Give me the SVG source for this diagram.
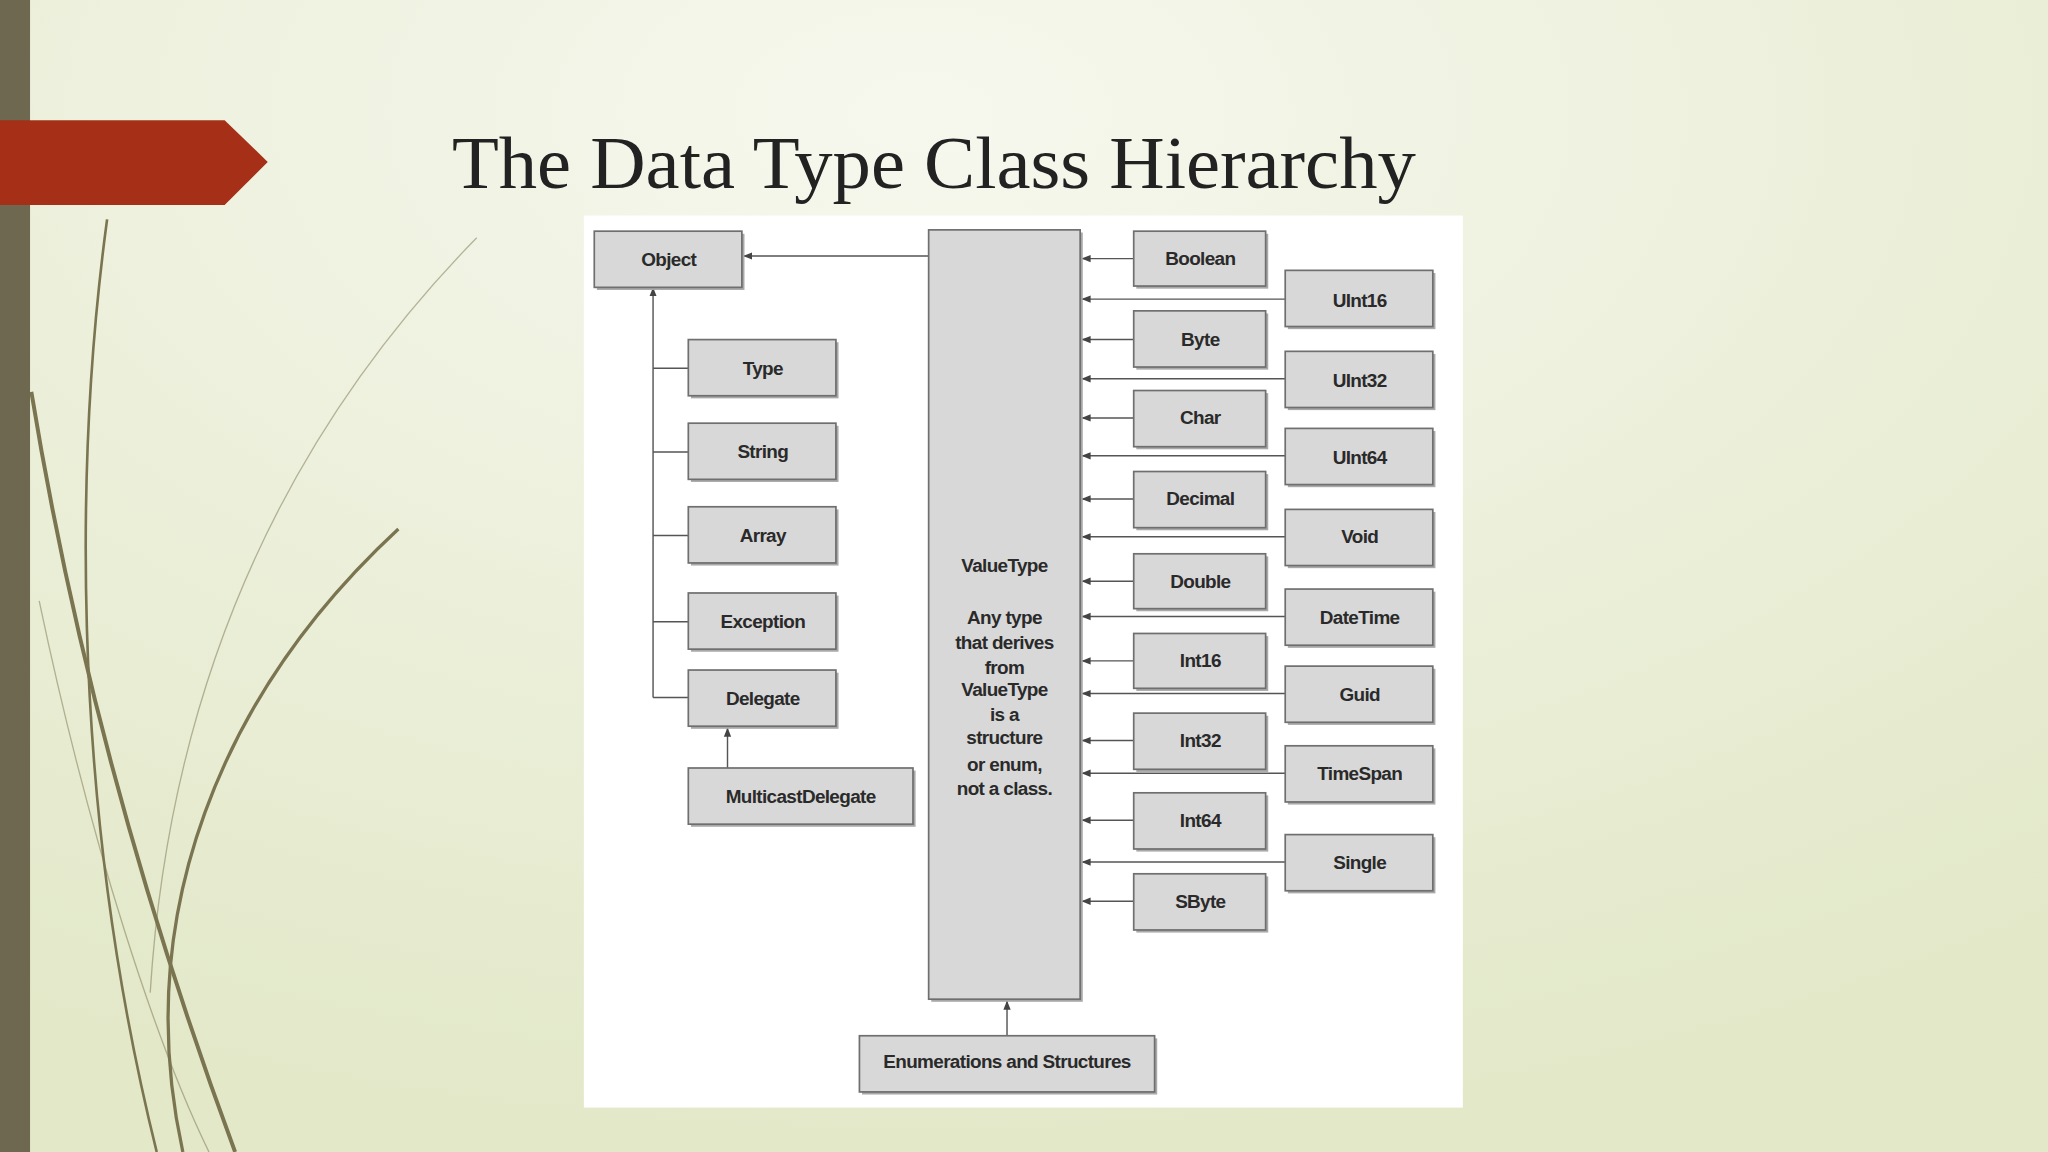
<svg xmlns="http://www.w3.org/2000/svg" width="2048" height="1152" viewBox="0 0 2048 1152">
<defs>
<radialGradient id="bg" cx="0.45" cy="0.1" r="0.9">
<stop offset="0" stop-color="#f6f8ee"/><stop offset="1" stop-color="#e2e8c8"/>
</radialGradient>
<marker id="ah" viewBox="0 0 10 10" refX="10" refY="5" markerWidth="7" markerHeight="7" orient="auto" markerUnits="userSpaceOnUse"><path d="M0,1 L10,5 L0,9 z" fill="#444"/></marker>
<style>
.b{fill:#d8d8d8;stroke:#6f6f6f;stroke-width:1.3}
.s{fill:#a9a9a9}
.t{font-family:"Liberation Sans",Arial,sans-serif;font-weight:bold;font-size:14.5px;fill:#2a2a2a;text-anchor:middle;letter-spacing:-0.5px}
.c{stroke:#555;stroke-width:1.1;fill:none}
.a{stroke:#555;stroke-width:1.1;fill:none;marker-end:url(#ah)}
.d{fill:none;stroke:#7a7450}
</style>
</defs>
<rect width="2048" height="1152" fill="url(#bg)"/>
<g transform="scale(1.30612)">
<g id="decor">
<path class="d" stroke-width="2" d="M82,168 C60,330 50,600 120,882"/>
<path class="d" stroke-width="3" d="M24,300 C60,520 120,720 180,882"/>
<path class="d" stroke-width="2.5" d="M305,405 C170,530 100,700 140,882"/>
<path class="d" stroke-width="1" stroke-opacity="0.5" d="M365,182 C220,330 130,520 115,760"/>
<path class="d" stroke-width="1" stroke-opacity="0.5" d="M30,460 C70,650 120,800 160,882"/>
</g>
<rect x="0" y="0" width="23" height="882" fill="#6e6850"/>
<path d="M0,92 L172,92 L205,124 L172,157 L0,157 z" fill="#a53017"/>
<text x="346" y="144" font-family="'Liberation Serif','Times New Roman',serif" font-size="57" fill="#222" textLength="738" lengthAdjust="spacingAndGlyphs">The Data Type Class Hierarchy</text>
<rect x="447" y="165" width="673" height="683" fill="#ffffff"/>
<g id="connectors">
<path class="a" d="M711,196 H569"/>
<path class="a" d="M500,534 V220"/>
<path class="c" d="M500,282 H527 M500,346 H527 M500,410 H527 M500,476 H527 M500,534 H527"/>
<path class="a" d="M557,588 V557"/>
<path class="a" d="M771,793 V766"/>
<path class="a" d="M868,198 H828"/><path class="a" d="M868,260 H828"/><path class="a" d="M868,320 H828"/><path class="a" d="M868,382 H828"/><path class="a" d="M868,445 H828"/><path class="a" d="M868,506 H828"/><path class="a" d="M868,567 H828"/><path class="a" d="M868,628 H828"/><path class="a" d="M868,690 H828"/>
<path class="a" d="M984,229 H828"/><path class="a" d="M984,290 H828"/><path class="a" d="M984,349 H828"/><path class="a" d="M984,411 H828"/><path class="a" d="M984,472 H828"/><path class="a" d="M984,531 H828"/><path class="a" d="M984,592 H828"/><path class="a" d="M984,660 H828"/>
</g>
<g id="valuetype"><rect class="s" x="713" y="178" width="116" height="589"/><rect class="b" x="711" y="176" width="116" height="589"/>
<text class="t"><tspan x="769" y="438">ValueType</tspan><tspan x="769" y="478">Any type</tspan><tspan x="769" y="497">that derives</tspan><tspan x="769" y="516">from</tspan><tspan x="769" y="533">ValueType</tspan><tspan x="769" y="552">is a</tspan><tspan x="769" y="570">structure</tspan><tspan x="769" y="590">or enum,</tspan><tspan x="769" y="609">not a class.</tspan></text></g>
<g id="object"><rect class="s" x="457" y="179" width="113" height="43"/><rect class="b" x="455" y="177" width="113" height="43"/><text class="t" x="512" y="204">Object</text></g>
<g id="type"><rect class="s" x="529" y="262" width="113" height="43"/><rect class="b" x="527" y="260" width="113" height="43"/><text class="t" x="584" y="287">Type</text></g>
<g id="string"><rect class="s" x="529" y="326" width="113" height="43"/><rect class="b" x="527" y="324" width="113" height="43"/><text class="t" x="584" y="351">String</text></g>
<g id="array"><rect class="s" x="529" y="390" width="113" height="43"/><rect class="b" x="527" y="388" width="113" height="43"/><text class="t" x="584" y="415">Array</text></g>
<g id="exception"><rect class="s" x="529" y="456" width="113" height="43"/><rect class="b" x="527" y="454" width="113" height="43"/><text class="t" x="584" y="481">Exception</text></g>
<g id="delegate"><rect class="s" x="529" y="515" width="113" height="43"/><rect class="b" x="527" y="513" width="113" height="43"/><text class="t" x="584" y="540">Delegate</text></g>
<g id="multicast"><rect class="s" x="529" y="590" width="172" height="43"/><rect class="b" x="527" y="588" width="172" height="43"/><text class="t" x="613" y="615">MulticastDelegate</text></g>
<g id="enums"><rect class="s" x="660" y="795" width="226" height="43"/><rect class="b" x="658" y="793" width="226" height="43"/><text class="t" x="771" y="818">Enumerations and Structures</text></g>
<g id="boolean"><rect class="s" x="870" y="179" width="101" height="42"/><rect class="b" x="868" y="177" width="101" height="42"/><text class="t" x="919" y="203">Boolean</text></g>
<g id="byte"><rect class="s" x="870" y="240" width="101" height="43"/><rect class="b" x="868" y="238" width="101" height="43"/><text class="t" x="919" y="265">Byte</text></g>
<g id="char"><rect class="s" x="870" y="301" width="101" height="43"/><rect class="b" x="868" y="299" width="101" height="43"/><text class="t" x="919" y="325">Char</text></g>
<g id="decimal"><rect class="s" x="870" y="363" width="101" height="43"/><rect class="b" x="868" y="361" width="101" height="43"/><text class="t" x="919" y="387">Decimal</text></g>
<g id="double"><rect class="s" x="870" y="426" width="101" height="42"/><rect class="b" x="868" y="424" width="101" height="42"/><text class="t" x="919" y="450">Double</text></g>
<g id="int16"><rect class="s" x="870" y="487" width="101" height="42"/><rect class="b" x="868" y="485" width="101" height="42"/><text class="t" x="919" y="511">Int16</text></g>
<g id="int32"><rect class="s" x="870" y="548" width="101" height="43"/><rect class="b" x="868" y="546" width="101" height="43"/><text class="t" x="919" y="572">Int32</text></g>
<g id="int64"><rect class="s" x="870" y="609" width="101" height="43"/><rect class="b" x="868" y="607" width="101" height="43"/><text class="t" x="919" y="633">Int64</text></g>
<g id="sbyte"><rect class="s" x="870" y="671" width="101" height="43"/><rect class="b" x="868" y="669" width="101" height="43"/><text class="t" x="919" y="695">SByte</text></g>
<g id="uint16"><rect class="s" x="986" y="209" width="113" height="43"/><rect class="b" x="984" y="207" width="113" height="43"/><text class="t" x="1041" y="235">UInt16</text></g>
<g id="uint32"><rect class="s" x="986" y="271" width="113" height="43"/><rect class="b" x="984" y="269" width="113" height="43"/><text class="t" x="1041" y="296">UInt32</text></g>
<g id="uint64"><rect class="s" x="986" y="330" width="113" height="43"/><rect class="b" x="984" y="328" width="113" height="43"/><text class="t" x="1041" y="355">UInt64</text></g>
<g id="void"><rect class="s" x="986" y="392" width="113" height="43"/><rect class="b" x="984" y="390" width="113" height="43"/><text class="t" x="1041" y="416">Void</text></g>
<g id="datetime"><rect class="s" x="986" y="453" width="113" height="43"/><rect class="b" x="984" y="451" width="113" height="43"/><text class="t" x="1041" y="478">DateTime</text></g>
<g id="guid"><rect class="s" x="986" y="512" width="113" height="43"/><rect class="b" x="984" y="510" width="113" height="43"/><text class="t" x="1041" y="537">Guid</text></g>
<g id="timespan"><rect class="s" x="986" y="573" width="113" height="43"/><rect class="b" x="984" y="571" width="113" height="43"/><text class="t" x="1041" y="597">TimeSpan</text></g>
<g id="single"><rect class="s" x="986" y="641" width="113" height="43"/><rect class="b" x="984" y="639" width="113" height="43"/><text class="t" x="1041" y="665">Single</text></g>
</g>
</svg>
